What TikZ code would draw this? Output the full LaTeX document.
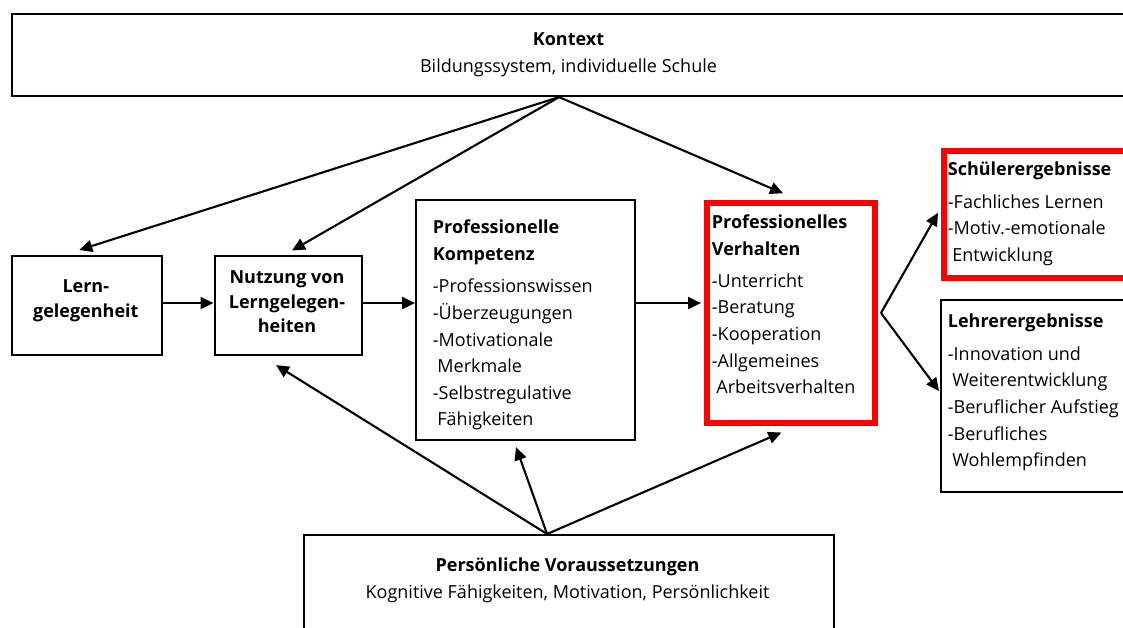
\documentclass[tikz,border=0pt]{standalone}
\usepackage{fontspec}
\setmainfont{Open Sans}
\usetikzlibrary{arrows.meta}
\definecolor{boxred}{RGB}{255,0,0}
\begin{document}
\begin{tikzpicture}[x=1pt,y=-1pt,
  box/.style={draw=black, line width=2.1pt, fill=white, inner sep=0pt, anchor=north west},
  redbox/.style={draw=boxred, line width=6pt, fill=white, inner sep=0pt, anchor=north west},
  txt/.style={inner sep=0pt, align=left, anchor=north west, font=\fontsize{18}{26.6}\selectfont},
  ctxt/.style={inner sep=0pt, align=center, anchor=north, font=\fontsize{18}{27}\selectfont},
  btxt/.style={inner sep=0pt, align=center, anchor=north, font=\fontsize{18}{24.6}\selectfont\bfseries},
  arr/.style={draw=black, line width=2.1pt, -{Triangle[length=13pt,width=12pt]}},
  ]
\fill[white] (0,0) rectangle (1123,628);
\useasboundingbox (0,0) rectangle (1123,628);

% boxes
\node[box, minimum width=1119pt, minimum height=82pt] (kontext) at (11,13) {};
\node[box, minimum width=149.5pt, minimum height=99pt] (lern) at (11,255) {};
\node[box, minimum width=147pt, minimum height=99pt] (nutzung) at (213.5,255) {};
\node[box, minimum width=219pt, minimum height=240pt] (kompetenz) at (415,199) {};
\node[redbox, minimum width=168pt, minimum height=220pt] (verhalten) at (704,200) {};
\node[redbox, minimum width=200pt, minimum height=126.5pt] (schueler) at (941,148) {};
\node[box, minimum width=200pt, minimum height=192pt] (lehrer) at (940,299) {};
\node[box, minimum width=530pt, minimum height=120pt] (persoenlich) at (302.5,534) {};

% texts
\node[ctxt] (kontextText) at (568.5,30) {\rule{0pt}{15pt}\textbf{Kontext}\\Bildungssystem, individuelle Schule};
\node[ctxt] (persText) at (567.5,556) {\rule{0pt}{15pt}\textbf{Persönliche Voraussetzungen}\\Kognitive Fähigkeiten, Motivation, Persönlichkeit};
\node[btxt] (lernText) at (85.8,277.7) {\rule{0pt}{15pt}Lern-\\gelegenheit};
\node[btxt] (nutzungText) at (287,268.3) {\rule{0pt}{15pt}Nutzung von\\Lerngelegen-\\heiten};
\node[txt] (kompetenzText) at (432.7,218.3) {\rule{0pt}{15pt}\textbf{Professionelle}\\\textbf{Kompetenz}\\[6.2pt]-Professionswissen\\-Überzeugungen\\-Motivationale\\\hspace*{4.5pt}Merkmale\\-Selbstregulative\\\hspace*{4.5pt}Fähigkeiten};
\node[txt] (verhaltenText) at (711.7,213.3) {\rule{0pt}{15pt}\textbf{Professionelles}\\\textbf{Verhalten}\\[5.5pt]-Unterricht\\-Beratung\\-Kooperation\\-Allgemeines\\\hspace*{4.5pt}Arbeitsverhalten};
\node[txt] (schuelerText) at (947.7,160) {\rule{0pt}{15pt}\textbf{Schülerergebnisse}\\[6.5pt]-Fachliches Lernen\\-Motiv.-emotionale\\\hspace*{4.5pt}Entwicklung};
\node[txt] (lehrerText) at (947.7,312.3) {\rule{0pt}{15pt}\textbf{Lehrerergebnisse}\\[6.2pt]-Innovation und\\\hspace*{4.5pt}Weiterentwicklung\\-Beruflicher Aufstieg\\-Berufliches\\\hspace*{4.5pt}Wohlempfinden};

% apex and helper points
\coordinate (kApex) at ([xshift=-12.5pt]kontext.south);
\coordinate (pApex) at ([xshift=-21.5pt]persoenlich.north);
\coordinate (vOut) at ([xshift=3pt]verhalten.east);
\coordinate (hLine) at ([yshift=2.5pt]nutzung.east);

% connectors from Kontext
\draw[arr] (kApex) -- ([xshift=-7.5pt,yshift=5pt]lern.north);
\draw[arr] (kApex) -- ([xshift=4pt,yshift=4.5pt]nutzung.north);
\draw[arr] (kApex) -- ([xshift=-8pt,yshift=6.7pt]verhalten.north);

% horizontal chain
\draw[arr] ([yshift=2.5pt]lern.east) -- ([yshift=2.5pt]nutzung.west);
\draw[arr] (hLine) -- (hLine -| kompetenz.west);
\draw[arr, shorten >=3pt] (hLine -| kompetenz.east) -- (hLine -| verhalten.west);

% to outcomes
\draw[arr] (vOut) -- ([xshift=-3pt,yshift=1.5pt]schueler.west);
\draw[arr] (vOut) -- ([xshift=-1pt,yshift=5pt]lehrer.west);

% from Persoenliche Voraussetzungen
\draw[arr] (pApex) -- ([xshift=-12pt,yshift=-9pt]nutzung.south);
\draw[arr] (pApex) -- ([xshift=-9.5pt,yshift=-6pt]kompetenz.south);
\draw[arr] (pApex) -- ([xshift=-9.7pt,yshift=-6.5pt]verhalten.south);
\end{tikzpicture}
\end{document}
